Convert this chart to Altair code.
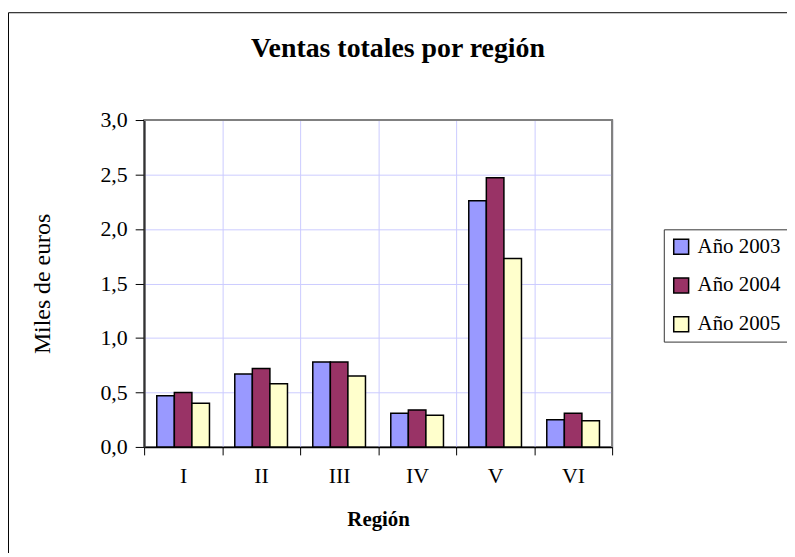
import altair as alt
import pandas as pd

regions = ["I", "II", "III", "IV", "V", "VI"]
years = ["Año 2003", "Año 2004", "Año 2005"]
v2003 = [0.47, 0.67, 0.78, 0.31, 2.26, 0.25]
v2004 = [0.50, 0.72, 0.78, 0.34, 2.47, 0.31]
v2005 = [0.40, 0.58, 0.65, 0.29, 1.73, 0.24]
colors = ["#9999FF", "#993366", "#FFFFCC"]
y_ticks = [0, 0.5, 1.0, 1.5, 2.0, 2.5, 3.0]

rows = []
for yr, vals in zip(years, [v2003, v2004, v2005]):
    for r, v in zip(regions, vals):
        rows.append({"region": r, "year": yr, "value": v})
df = pd.DataFrame(rows)

SERIF = "Liberation Serif"
one = pd.DataFrame({"a": [0]})

border = alt.Chart(one).mark_rect(
    filled=False, stroke="black", strokeWidth=1
).encode(
    x=alt.value(-136.5), x2=alt.value(700), y=alt.value(-108), y2=alt.value(480)
)

bars = alt.Chart(df).mark_bar(stroke="black", strokeWidth=1.5).encode(
    x=alt.X("region:N", sort=regions,
            scale=alt.Scale(paddingInner=0, paddingOuter=0),
            axis=alt.Axis(title="Región", labelAngle=0, tickBand="extent",
                          grid=True, gridColor="#CCCCFF", gridWidth=1,
                          tickSize=8, labelPadding=11, titlePadding=22,
                          titleFontWeight="bold", titleFontSize=21,
                          domainColor="black", domainWidth=1.5)),
    xOffset=alt.XOffset("year:N", sort=years,
                        scale=alt.Scale(paddingInner=0, paddingOuter=0.72)),
    y=alt.Y("value:Q", scale=alt.Scale(domain=[0, 3], nice=False),
            axis=alt.Axis(title="Miles de euros", values=y_ticks,
                          labelExpr="replace(format(datum.value, '.1f'), '.', ',')",
                          grid=True, gridColor="#CCCCFF", gridWidth=1,
                          tickSize=9, labelPadding=8, titlePadding=46,
                          titleFontWeight="normal", titleFontSize=24,
                          domainColor="#333333", domainWidth=2)),
    color=alt.Color("year:N", sort=years,
                    scale=alt.Scale(domain=years, range=colors),
                    legend=alt.Legend(title=None, orient="none",
                                      legendX=523, legendY=110,
                                      symbolType="square", symbolSize=225,
                                      symbolStrokeColor="black",
                                      symbolStrokeWidth=1.5,
                                      labelFont=SERIF, labelFontSize=21,
                                      labelColor="black",
                                      rowPadding=17, padding=7,
                                      strokeColor="#333333",
                                      fillColor="white", labelOffset=6)),
)

top_edge = alt.Chart(one).mark_rule(color="#808080", strokeWidth=2).encode(
    x=alt.value(0), x2=alt.value("width"), y=alt.value(0)
)
right_edge = alt.Chart(one).mark_rule(color="#808080", strokeWidth=2).encode(
    x=alt.value("width"), y=alt.value(0), y2=alt.value("height")
)

chart = alt.layer(border, bars, top_edge, right_edge).properties(
    width=471, height=329,
    autosize=alt.AutoSizeParams(type="none"),
    padding={"left": 137, "top": 111, "right": 176, "bottom": 105},
    title=alt.TitleParams("Ventas totales por región", font=SERIF,
                          fontSize=28, fontWeight="bold", color="black",
                          offset=-51, dx=20),
).configure_view(
    stroke="#808080", strokeWidth=2
).configure_axis(
    labelFont=SERIF, labelFontSize=22, labelColor="black",
    titleFont=SERIF, titleColor="black", tickColor="black"
)

chart.save("out.html", embed_options={"renderer": "svg", "actions": False})
